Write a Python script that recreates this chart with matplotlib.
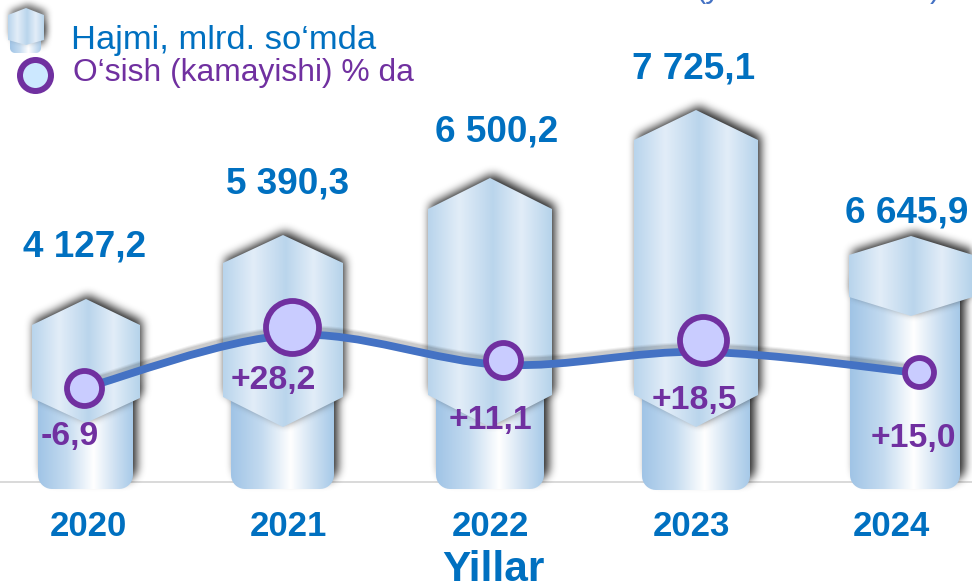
import numpy as np
import matplotlib
matplotlib.use("Agg")
import matplotlib.pyplot as plt
from matplotlib.path import Path
from matplotlib.patches import PathPatch
from matplotlib.colors import LinearSegmentedColormap

# ---- data ----
years = ["2020", "2021", "2022", "2023", "2024"]
volume_labels = ["4 127,2", "5 390,3", "6 500,2", "7 725,1", "6 645,9"]
growth_labels = ["-6,9", "+28,2", "+11,1", "+18,5", "+15,0"]
# drawn (infographic) heights of the arrow tips and heights of the growth line / dots, in axis units
bar_heights = [3797, 5124, 6307, 7718, 5104]
line_levels = [1950, 3050, 2430, 2700, 2260]
dot_levels = [1950, 3220, 2530, 2945, 2280]

# ---- layout (pixels of the 972x583 canvas) ----
W, H, BASE = 972, 583, 482
STEP, X0 = 206.25, 86.0
PX_PER_UNIT = 0.0482
BLUE, PURPLE, LINE = "#0070c0", "#7030a0", "#4472c4"
centres = [86, 283, 490, 696, 911]
head_half = [54, 60, 62, 62, 62]
col_edges = [(38, 133), (231, 334), (436, 544), (642, 750), (850, 960)]
shoulder_top = [325, 263, 209, 140, 255]
shoulder_bot = [398, 397, 395, 395, 297]
tip_bot = [423, 427, 427, 427, 316]
col_bottom = [489, 489, 489, 490, 489]
dot_x = [84, 292, 503, 703, 919]
dot_diam = [41, 59, 41, 53, 35]
value_pos = [(85, 247), (288, 184), (497, 132), (694, 69), (907, 213)]
growth_pos = [(70, 436), (273, 380), (490, 421), (694, 401), (913, 438)]
year_x = [88, 288, 490, 691, 891]

plt.rcParams["font.family"] = ["Liberation Sans", "DejaVu Sans"]
fig = plt.figure(figsize=(W / 100, H / 100), dpi=100)
ax = fig.add_axes([0, (H - BASE) / H, 1, BASE / H])
ax.set_xlim(-X0 / STEP, (W - X0) / STEP)
ax.set_ylim(0, BASE / PX_PER_UNIT)


def dx(px):
    return (np.asarray(px, float) - X0) / STEP


def dy(py):
    return (BASE - np.asarray(py, float)) / PX_PER_UNIT


col_cmap = LinearSegmentedColormap.from_list(
    "col", [(0, "#a0c4e6"), (0.3, "#c4dbf0"), (0.58, "#ffffff"), (0.8, "#cfe1f2"), (1, "#a6c9e8")])
head_cmap = LinearSegmentedColormap.from_list(
    "head", [(0, "#b8d4ec"), (0.25, "#e2edf8"), (0.52, "#bad5ec"), (0.75, "#e2edf8"), (1, "#b4d2ea")])

gy, gx = np.mgrid[0:H, 0:W]
grid = np.column_stack([gx.ravel() + 0.5, gy.ravel() + 0.5])


def box_blur(a, r, axis):
    c = np.cumsum(a, axis=axis)
    c = np.concatenate([np.zeros_like(np.take(c, [0], axis=axis)), c], axis=axis)
    n = a.shape[axis]
    hi = np.minimum(np.arange(n) + r + 1, n)
    lo = np.maximum(np.arange(n) - r, 0)
    return (np.take(c, hi, axis=axis) - np.take(c, lo, axis=axis)) / (2 * r + 1)


def blur(a, r=3):
    for _ in range(3):
        a = box_blur(box_blur(a, r, 0), r, 1)
    return a


def shadow(pts, off, alpha, z, r=3):
    shifted = np.asarray(pts, float) + off
    m = Path(shifted).contains_points(grid).reshape(H, W).astype(float)
    m = blur(m, r) * alpha
    rgba = np.zeros((H, W, 4))
    rgba[..., 3] = m
    im = ax.imshow(rgba, extent=[dx(0), dx(W), dy(H), dy(0)], origin="upper",
                   aspect="auto", zorder=z, interpolation="nearest")
    im.set_clip_path(None)
    im.set_clip_box(fig.bbox)
    im.set_clip_on(False)


def gradient_shape(pts, cmap, z):
    pts = np.asarray(pts, float)
    x0, x1 = pts[:, 0].min(), pts[:, 0].max()
    y0, y1 = pts[:, 1].min(), pts[:, 1].max()
    ramp = np.linspace(0, 1, 256)[None, :]
    im = ax.imshow(ramp, cmap=cmap, vmin=0, vmax=1, extent=[dx(x0), dx(x1), dy(y1), dy(y0)],
                   aspect="auto", zorder=z, interpolation="bilinear")
    im.set_clip_box(fig.bbox)
    data_pts = np.column_stack([dx(pts[:, 0]), dy(pts[:, 1])])
    im.set_clip_path(Path(np.vstack([data_pts, data_pts[:1]]), closed=True), ax.transData)


def column_points(x0, x1, top, bottom, r):
    t = np.linspace(0, np.pi / 2, 10)
    right = np.column_stack([x1 - r + r * np.cos(t), bottom - r + r * np.sin(t)])
    left = np.column_stack([x0 + r - r * np.sin(t), bottom - r + r * np.cos(t)])
    return np.vstack([[[x0, top], [x1, top]], right, left])


def head_points(c, half, tip, st, sb, tb):
    return np.array([[c, tip], [c + half, st], [c + half, sb], [c, tb], [c - half, sb], [c - half, st]], float)


def draw_bar(col, head, z, r=4, a=0.85):
    shadow(col, (4, -8), a, z, r)
    gradient_shape(col, col_cmap, z + 0.1)
    shadow(head, (2, -4), a, z + 0.2, r)
    gradient_shape(head, head_cmap, z + 0.3)


# bars
for i in range(len(years)):
    tip = BASE - bar_heights[i] * PX_PER_UNIT
    col = column_points(*col_edges[i], tip_bot[i] - 30, col_bottom[i], 14)
    head = head_points(centres[i], head_half[i], tip, shoulder_top[i], shoulder_bot[i], tip_bot[i])
    draw_bar(col, head, 2 + i * 0.5)

# legend icon
draw_bar(column_points(10, 41, 30, 53, 5), head_points(26, 18, 8, 15, 40, 45), 2.0, r=3, a=0.6)

# smooth growth line
xs, ys = dx(dot_x), np.asarray(line_levels, float)
px = np.r_[xs[0], xs, xs[-1]]
py = np.r_[ys[0], ys, ys[-1]]
verts, codes = [(xs[0], ys[0])], [Path.MOVETO]
for k in range(1, len(xs)):
    verts += [(px[k] + (px[k + 1] - px[k - 1]) / 6, py[k] + (py[k + 1] - py[k - 1]) / 6),
              (px[k + 1] - (px[k + 2] - px[k]) / 6, py[k + 1] - (py[k + 2] - py[k]) / 6),
              (px[k + 1], py[k + 1])]
    codes += [Path.CURVE4] * 3
curve = Path(verts, codes)
for lw, a in [(9.5, 0.05), (8, 0.07), (6.5, 0.09)]:
    off = curve.vertices + [0, 3 / PX_PER_UNIT]
    ax.add_patch(PathPatch(Path(off, codes), fill=False, ec="black", lw=lw, alpha=a, zorder=6, capstyle="butt"))
ax.add_patch(PathPatch(curve, fill=False, ec=LINE, lw=5.6, zorder=6.5, capstyle="butt"))

# dots
ax.plot(dx(dot_x[3] + 2), line_levels[3], "o", ms=20, mfc="#4c5fe0", mec="none", zorder=6.8)
for x, lev, d in zip(dot_x, dot_levels, dot_diam):
    ax.plot(dx(x), lev, "o", ms=(d - 6) * 0.72, mfc="#c9ccff", mec=PURPLE, mew=5.8 * 0.72,
            zorder=7, clip_on=False)
ax.plot(dx(35), dy(75), "o", ms=31 * 0.72, mfc="#cce8ff", mec=PURPLE, mew=6 * 0.72, zorder=7)

# value labels
for (x, y), s in zip(value_pos, volume_labels):
    ax.text(dx(x), dy(y), s, color=BLUE, fontsize=26.6, fontweight="bold", ha="center", va="center", zorder=9)
for (x, y), s in zip(growth_pos, growth_labels):
    ax.text(dx(x), dy(y), s, color=PURPLE, fontsize=24.3, fontweight="bold", ha="center", va="center", zorder=9)

# legend text
ax.text(dx(71), dy(40), "Hajmi, mlrd. so‘mda", color=BLUE, fontsize=24.8, ha="left", va="center", zorder=9)
ax.text(dx(73), dy(73), "O‘sish (kamayishi) % da", color=PURPLE, fontsize=22.9, ha="left", va="center", zorder=9)

# cropped subtitle fragments on the top edge
ax.text(dx(695), dy(-3), "(y", color=LINE, fontsize=22, ha="left", va="baseline", clip_on=False)
ax.text(dx(930), dy(-3), ")", color=LINE, fontsize=22, ha="left", va="baseline", clip_on=False)

# axes
ax.set_xlim(-X0 / STEP, (W - X0) / STEP)
ax.set_ylim(0, BASE / PX_PER_UNIT)
ax.set_yticks([])
ax.set_xticks(dx(year_x), years)
ax.tick_params(axis="x", length=0, pad=20.5, labelsize=25, labelcolor=BLUE)
for t in ax.get_xticklabels():
    t.set_fontweight("bold")
for s in ["top", "left", "right"]:
    ax.spines[s].set_visible(False)
ax.patch.set_alpha(0)
ax.spines["bottom"].set_color("#d9d9d9")
ax.spines["bottom"].set_linewidth(1.4)
ax.spines["bottom"].set_zorder(1)
ax.set_xlabel("Yillar", fontsize=30.5, fontweight="bold", color=BLUE, va="center")
ax.xaxis.set_label_coords(493 / W, -(570 - BASE) / BASE)

fig.savefig("out.png", dpi=100)
